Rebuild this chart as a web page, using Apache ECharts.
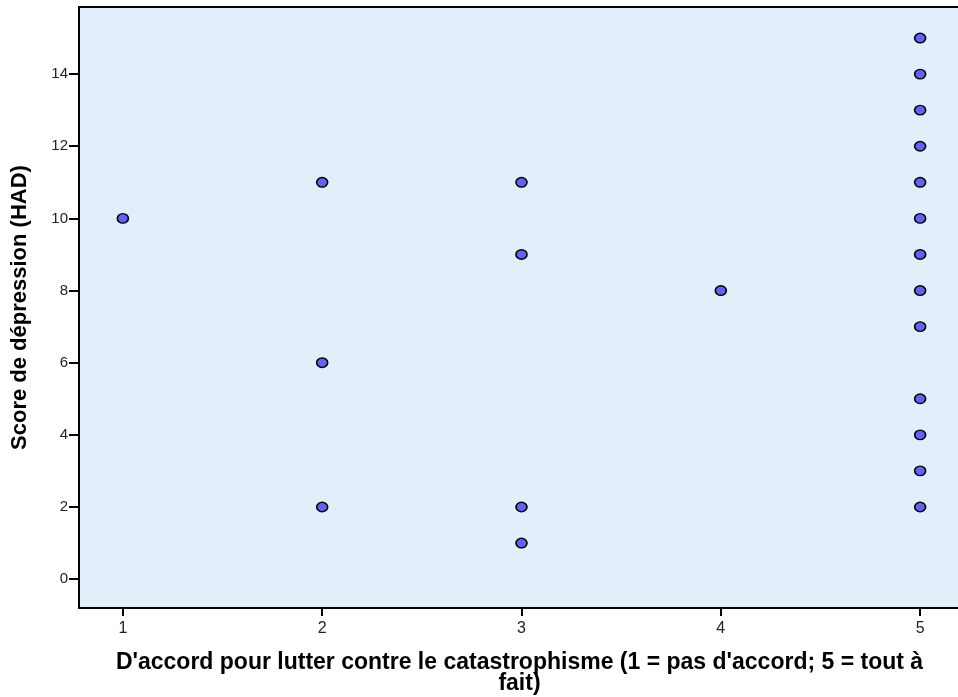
<!DOCTYPE html>
<html>
<head>
<meta charset="utf-8">
<script src="https://cdn.jsdelivr.net/npm/echarts@6/dist/echarts.min.js"></script>
<style>
  html, body { margin: 0; padding: 0; background: #ffffff; }
  #chart { width: 958px; height: 697px; }
</style>
</head>
<body>
<div id="chart"></div>
<script>
// Agreement level (1 = disagree, 5 = fully agree) and HAD depression score per respondent
const agreement = [1, 2, 2, 2, 3, 3, 3, 3, 4, 5, 5, 5, 5, 5, 5, 5, 5, 5, 5, 5, 5, 5];
const depression = [10, 11, 6, 2, 11, 9, 2, 1, 8, 15, 14, 13, 12, 11, 10, 9, 8, 7, 5, 4, 3, 2];

const xTicks = [1, 2, 3, 4, 5];
const yTicks = [0, 2, 4, 6, 8, 10, 12, 14];

const xTitle = "D'accord pour lutter contre le catastrophisme (1 = pas d'accord; 5 = tout à\nfait)";
const yTitle = "Score de dépression (HAD)";

const points = agreement.map((a, i) => [a, depression[i]]);

const font = "Arial, 'Liberation Sans', Helvetica, sans-serif";

const chart = echarts.init(document.getElementById('chart'), null, { renderer: 'canvas' });

chart.setOption({
  animation: false,
  backgroundColor: '#ffffff',
  grid: {
    left: 79, top: 7, right: -2, bottom: 89,
    outerBoundsMode: 'none',
    containLabel: false,
    show: true,
    backgroundColor: '#e2eefa',
    borderColor: '#000000',
    borderWidth: 2
  },
  xAxis: {
    type: 'value',
    min: 0.78,
    max: 5.2,
    splitLine: { show: false },
    axisLine: { show: true, onZero: false, lineStyle: { color: '#000', width: 2 } },
    axisTick: { show: true, length: 8, lineStyle: { color: '#000', width: 2 }, customValues: xTicks },
    axisLabel: { customValues: xTicks, color: '#222', fontFamily: font, fontSize: 16, margin: 13 },
    name: xTitle,
    nameLocation: 'middle',
    nameGap: 44,
    nameTextStyle: { color: '#000', fontFamily: font, fontSize: 23, fontWeight: 'bold', lineHeight: 21 }
  },
  yAxis: {
    type: 'value',
    min: -0.8,
    max: 15.86,
    splitLine: { show: false },
    axisLine: { show: true, onZero: false, lineStyle: { color: '#000', width: 2 } },
    axisTick: { show: true, length: 10, lineStyle: { color: '#000', width: 2 }, customValues: yTicks },
    axisLabel: { customValues: yTicks, color: '#222', fontFamily: font, fontSize: 15, margin: 11 },
    name: yTitle,
    nameLocation: 'middle',
    nameGap: 48,
    nameTextStyle: { color: '#000', fontFamily: font, fontSize: 22, fontWeight: 'bold' }
  },
  series: [{
    type: 'scatter',
    data: points,
    symbol: 'circle',
    symbolSize: [11, 9.5],
    itemStyle: { color: '#6262f8', borderColor: '#000', borderWidth: 1.5, opacity: 1 },
    emphasis: { disabled: true }
  }]
});
</script>
</body>
</html>
